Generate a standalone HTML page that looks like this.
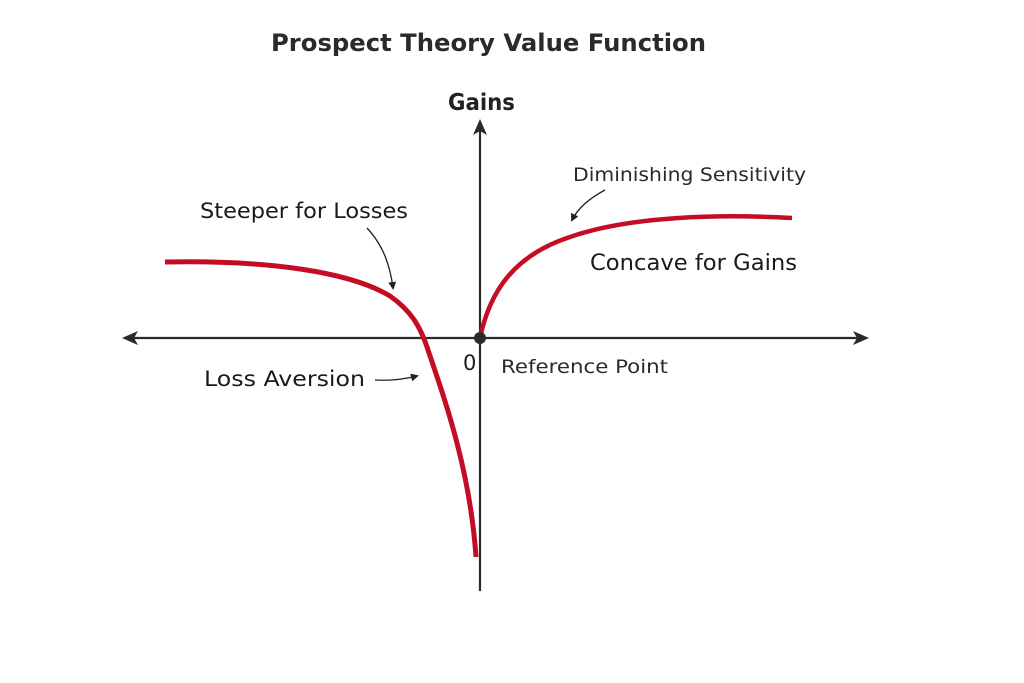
<!DOCTYPE html>
<html><head><meta charset="utf-8"><style>
html,body{margin:0;padding:0;background:#fff;}
svg{display:block;font-family:"DejaVu Sans","Liberation Sans",sans-serif;}
</style></head><body>
<svg width="1024" height="683" viewBox="0 0 1024 683" xmlns="http://www.w3.org/2000/svg">
<defs>
<marker id="ah" markerWidth="8" markerHeight="8" refX="6" refY="4" orient="auto" markerUnits="userSpaceOnUse">
<path d="M0,0 L8,4 L0,8 Z" fill="#222"/></marker>
</defs>
<rect width="1024" height="683" fill="#fff"/>
<text x="271" y="51" font-size="24" font-weight="bold" fill="#2a2a2a" textLength="435" lengthAdjust="spacingAndGlyphs">Prospect Theory Value Function</text>
<!-- axes -->
<line x1="132" y1="338" x2="858" y2="338" stroke="#2a2a2a" stroke-width="2.2"/>
<path d="M122,338 L138,331 L134,338 L138,345 Z" fill="#2a2a2a"/>
<path d="M869,338 L853,331 L857,338 L853,345 Z" fill="#2a2a2a"/>
<line x1="480" y1="130" x2="480" y2="591" stroke="#2a2a2a" stroke-width="2.2"/>
<path d="M480,119 L473,135 L480,131 L487,135 Z" fill="#2a2a2a"/>
<text x="448" y="110" font-size="23" font-weight="bold" fill="#222" textLength="67" lengthAdjust="spacingAndGlyphs">Gains</text>
<!-- curves -->
<path d="M165,262 C270,260 350,272 390,296 C410,310 420,325 428,350 C445,400 470,470 476,557" fill="none" stroke="#c40d25" stroke-width="5"/>
<path d="M480,338 C490,290 515,255 570,237 C630,216 720,214 792,218" fill="none" stroke="#c40d25" stroke-width="4.5"/>
<circle cx="480" cy="338" r="6" fill="#2a2a2a"/>
<!-- labels -->
<text x="200" y="218" font-size="21" fill="#1a1a1a" textLength="208" lengthAdjust="spacingAndGlyphs">Steeper for Losses</text>
<path d="M367,228 C383,245 390,265 393,288" fill="none" stroke="#222" stroke-width="1.3" marker-end="url(#ah)"/>
<text x="573" y="181" font-size="19" fill="#2a2a2a" textLength="233" lengthAdjust="spacingAndGlyphs">Diminishing Sensitivity</text>
<path d="M605,190 C590,198 578,208 572,220" fill="none" stroke="#222" stroke-width="1.3" marker-end="url(#ah)"/>
<text x="590" y="270" font-size="22" fill="#1a1a1a" textLength="207" lengthAdjust="spacingAndGlyphs">Concave for Gains</text>
<text x="204" y="386" font-size="21" fill="#1a1a1a" textLength="161" lengthAdjust="spacingAndGlyphs">Loss Aversion</text>
<path d="M375,380 C392,381 405,379 417,376" fill="none" stroke="#222" stroke-width="1.3" marker-end="url(#ah)"/>
<text x="463" y="370" font-size="21" fill="#1a1a1a">0</text>
<text x="501" y="373" font-size="19" fill="#2a2a2a" textLength="167" lengthAdjust="spacingAndGlyphs">Reference Point</text>
</svg>
</body></html>
